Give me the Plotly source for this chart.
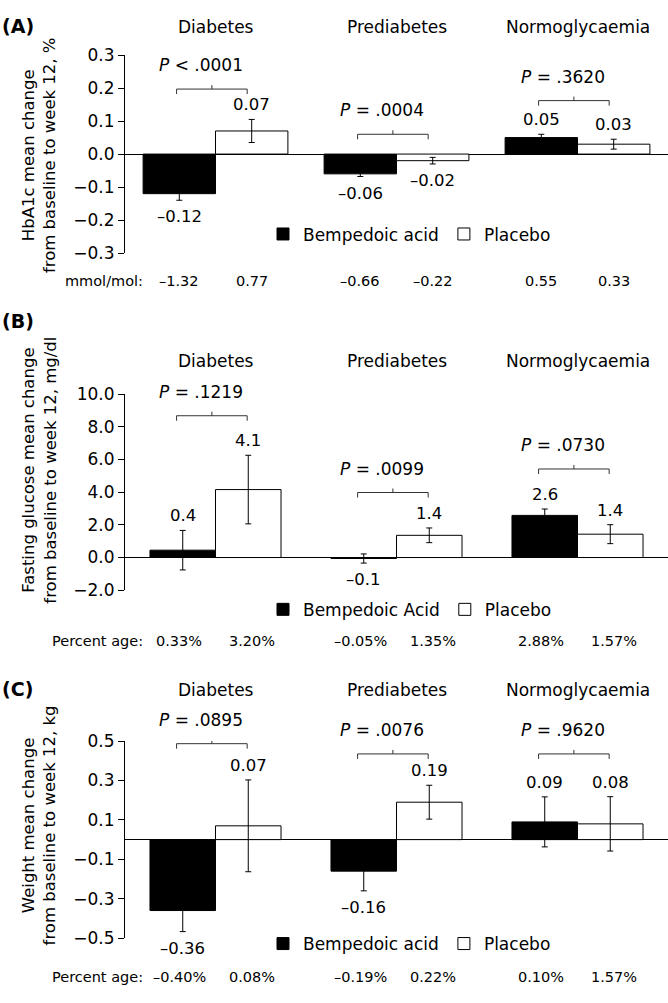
import plotly.graph_objects as go

W, H = 668, 1003

categories = ["Diabetes", "Prediabetes", "Normoglycaemia"]
cat_pos = [0, 1, 2]

# ---------- Panel A: HbA1c ----------
a_bemp = [-0.12, -0.06, 0.05]
a_bemp_err = [0.02, 0.008, 0.01]
a_plac = [0.07, -0.02, 0.03]
a_plac_err = [0.035, 0.01, 0.015]
a_bemp_lbl = ["–0.12", "–0.06", "0.05"]
a_plac_lbl = ["0.07", "–0.02", "0.03"]
a_pvals = ["<i>P</i> &lt; .0001", "<i>P</i> = .0004", "<i>P</i> = .3620"]
a_bracket = [0.197, 0.06, 0.162]
a_row_name = "mmol/mol:"
a_bemp_row = ["–1.32", "–0.66", "0.55"]
a_plac_row = ["0.77", "–0.22", "0.33"]
a_ticks = [-0.3, -0.2, -0.1, 0.0, 0.1, 0.2, 0.3]
a_names = ["Bempedoic acid", "Placebo"]
a_title = "HbA1c mean change<br>from baseline to week 12, %"

# ---------- Panel B: Fasting glucose ----------
b_bemp = [0.45, -0.06, 2.58]
b_bemp_err = [1.21, 0.28, 0.39]
b_plac = [4.16, 1.36, 1.43]
b_plac_err = [2.1, 0.45, 0.58]
b_bemp_lbl = ["0.4", "–0.1", "2.6"]
b_plac_lbl = ["4.1", "1.4", "1.4"]
b_pvals = ["<i>P</i> = .1219", "<i>P</i> = .0099", "<i>P</i> = .0730"]
b_bracket = [8.68, 3.98, 5.42]
b_row_name = "Percent age:"
b_bemp_row = ["0.33%", "–0.05%", "2.88%"]
b_plac_row = ["3.20%", "1.35%", "1.57%"]
b_ticks = [-2, 0, 2, 4, 6, 8, 10]
b_names = ["Bempedoic Acid", "Placebo"]
b_title = "Fasting glucose mean change<br>from baseline to week 12, mg/dl"

# ---------- Panel C: Weight ----------
c_bemp = [-0.36, -0.16, 0.09]
c_bemp_err = [0.107, 0.1, 0.127]
c_plac = [0.07, 0.19, 0.08]
c_plac_err = [0.233, 0.086, 0.138]
c_bemp_lbl = ["–0.36", "–0.16", "0.09"]
c_plac_lbl = ["0.07", "0.19", "0.08"]
c_pvals = ["<i>P</i> = .0895", "<i>P</i> = .0076", "<i>P</i> = .9620"]
c_bracket = [0.487, 0.435, 0.435]
c_row_name = "Percent age:"
c_bemp_row = ["–0.40%", "–0.19%", "0.10%"]
c_plac_row = ["0.08%", "0.22%", "1.57%"]
c_ticks = [-0.5, -0.3, -0.1, 0.1, 0.3, 0.5]
c_names = ["Bempedoic acid", "Placebo"]
c_title = "Weight mean change<br>from baseline to week 12, kg"


def py(p):
    return 1 - p / H


FONT = "DejaVu Sans"

panels = [
    dict(tag="(A)", bemp=a_bemp, be=a_bemp_err, plac=a_plac, pe=a_plac_err,
         bl=a_bemp_lbl, pl=a_plac_lbl, pv=a_pvals, br=a_bracket,
         rn=a_row_name, brow=a_bemp_row, prow=a_plac_row, ticks=a_ticks,
         names=a_names, title=a_title, rng=[-0.3, 0.3],
         top=46, bot=248, tag_y=16, cat_y=17, leg_y=229, row_y=277, title_y=148, w=0.4),
    dict(tag="(B)", bemp=b_bemp, be=b_bemp_err, plac=b_plac, pe=b_plac_err,
         bl=b_bemp_lbl, pl=b_plac_lbl, pv=b_pvals, br=b_bracket,
         rn=b_row_name, brow=b_bemp_row, prow=b_plac_row, ticks=b_ticks,
         names=b_names, title=b_title, rng=[-2, 10],
         top=392, bot=592, tag_y=317, cat_y=358, leg_y=612, row_y=644, title_y=470, w=0.362),
    dict(tag="(C)", bemp=c_bemp, be=c_bemp_err, plac=c_plac, pe=c_plac_err,
         bl=c_bemp_lbl, pl=c_plac_lbl, pv=c_pvals, br=c_bracket,
         rn=c_row_name, brow=c_bemp_row, prow=c_plac_row, ticks=c_ticks,
         names=c_names, title=c_title, rng=[-0.5, 0.5],
         top=746, bot=947, tag_y=693, cat_y=694, leg_y=953, row_y=987, title_y=832, w=0.362),
]

fig = go.Figure()
annotations = []
shapes = []
layout = {}

for k, p in enumerate(panels, start=1):
    sfx = "" if k == 1 else str(k)
    xa, ya = "x" + sfx, "y" + sfx
    leg = "legend" + sfx
    w = p["w"]

    fig.add_trace(go.Bar(
        x=cat_pos, y=p["bemp"], width=w, offset=-w, name=p["names"][0],
        marker=dict(color="black", line=dict(color="black", width=1)),
        error_y=dict(type="data", array=p["be"], color="black", thickness=1, width=3),
        xaxis=xa, yaxis=ya, legend=leg, hoverinfo="skip"))
    fig.add_trace(go.Bar(
        x=cat_pos, y=p["plac"], width=w, offset=0, name=p["names"][1],
        marker=dict(color="white", line=dict(color="black", width=1)),
        error_y=dict(type="data", array=p["pe"], color="black", thickness=1, width=3),
        xaxis=xa, yaxis=ya, legend=leg, hoverinfo="skip"))

    layout["xaxis" + sfx] = dict(domain=[125 / W, 1], range=[-0.5, 2.5], visible=False,
                                 anchor=ya, fixedrange=True)
    layout["yaxis" + sfx] = dict(domain=[py(p["bot"]), py(p["top"])], range=p["rng"],
                                 tickvals=p["ticks"], tickformat=".1f", ticks="outside",
                                 ticklen=6, tickcolor="black", showline=True,
                                 linecolor="black", linewidth=1, zeroline=True,
                                 zerolinecolor="black", zerolinewidth=1, showgrid=False,
                                 anchor=xa, tickfont=dict(size=17, color="black"),
                                 fixedrange=True)
    layout[leg] = dict(orientation="h", x=263 / W, xanchor="left", y=py(p["leg_y"]),
                       yanchor="middle", font=dict(size=17, color="black"),
                       bgcolor="rgba(0,0,0,0)", traceorder="normal", itemclick=False)

    # panel tag
    annotations.append(dict(text="<b>" + p["tag"] + "</b>", x=0, xref="paper", xanchor="left",
                            y=py(p["tag_y"]), yref="paper", yanchor="middle",
                            showarrow=False, font=dict(size=19)))
    # y title
    annotations.append(dict(text=p["title"], x=39 / W, xref="paper", xanchor="center",
                            y=py(p["title_y"]), yref="paper", yanchor="middle",
                            textangle=-90, showarrow=False, font=dict(size=16.5)))
    # row label
    annotations.append(dict(text=p["rn"], x=145 / W, xref="paper", xanchor="right",
                            y=py(p["row_y"]), yref="paper", yanchor="middle",
                            showarrow=False, font=dict(size=14.5)))

    for i, c in enumerate(categories):
        annotations.append(dict(text=c, x=cat_pos[i], xref=xa, xanchor="center",
                                y=py(p["cat_y"]), yref="paper", yanchor="middle",
                                showarrow=False, font=dict(size=17)))
        # value labels
        for v, e, lbl, cx in ((p["bemp"][i], p["be"][i], p["bl"][i], cat_pos[i] - w / 2),
                              (p["plac"][i], p["pe"][i], p["pl"][i], cat_pos[i] + w / 2)):
            if v >= 0:
                annotations.append(dict(text=lbl, x=cx, xref=xa, y=v + e, yref=ya,
                                        yanchor="bottom", yshift=3, showarrow=False,
                                        font=dict(size=16.5)))
            else:
                annotations.append(dict(text=lbl, x=cx, xref=xa, y=v - e, yref=ya,
                                        yanchor="top", yshift=-5, showarrow=False,
                                        font=dict(size=16.5)))
        # bottom row values
        annotations.append(dict(text=p["brow"][i], x=cat_pos[i] - 0.2, xref=xa,
                                y=py(p["row_y"]), yref="paper", yanchor="middle",
                                showarrow=False, font=dict(size=14.5)))
        annotations.append(dict(text=p["prow"][i], x=cat_pos[i] + 0.2, xref=xa,
                                y=py(p["row_y"]), yref="paper", yanchor="middle",
                                showarrow=False, font=dict(size=14.5)))
        # p-value bracket + text
        x0, x1 = cat_pos[i] - 0.215, cat_pos[i] + 0.175
        xm = (x0 + x1) / 2
        shapes.append(dict(type="path", xref=xa, yref=ya, ysizemode="pixel",
                           yanchor=p["br"][i],
                           path=f"M{x0},-5 L{x0},0 L{x1},0 L{x1},-5 M{xm},0 L{xm},4",
                           line=dict(color="#333333", width=1)))
        annotations.append(dict(text=p["pv"][i], x=cat_pos[i], xref=xa, xshift=-15,
                                y=p["br"][i], yref=ya, yanchor="bottom", yshift=12,
                                showarrow=False, font=dict(size=17)))

fig.update_layout(
    width=W, height=H, margin=dict(l=0, r=0, t=0, b=0),
    paper_bgcolor="white", plot_bgcolor="white",
    font=dict(family=FONT, color="black"),
    barmode="overlay", showlegend=True,
    annotations=annotations, shapes=shapes, **layout)

fig.write_html("out.html", config={"displayModeBar": False},
               post_script="document.body.style.margin='0';document.body.style.overflow='hidden';")
